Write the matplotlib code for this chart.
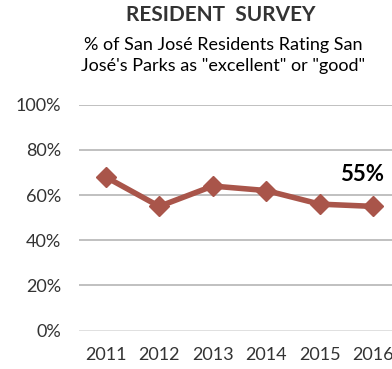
import matplotlib
matplotlib.use("Agg")
import matplotlib.pyplot as plt
from matplotlib.ticker import FuncFormatter

years = ["2011", "2012", "2013", "2014", "2015", "2016"]
rating = [68, 55, 64, 62, 56, 55]
yticks = [0, 20, 40, 60, 80, 100]

plt.rcParams["font.family"] = ["Lato", "DejaVu Sans"]

LINE_COLOR = "#A9554A"
TEXT_COLOR = "#333333"

fig = plt.figure(figsize=(3.92, 3.69), dpi=100)
ax = fig.add_axes([0.2015, 0.1038, 0.819, 0.6125])

x = list(range(len(years)))
ax.plot(x, rating, color=LINE_COLOR, linewidth=4, marker="D",
        markersize=10, solid_joinstyle="miter", zorder=3)

ax.set_xlim(-0.5, len(years) - 0.5)
ax.set_ylim(0, 100)
ax.set_yticks(yticks)
ax.yaxis.set_major_formatter(FuncFormatter(lambda v, _: f"{v:.0f}%"))
ax.set_xticks(x)
ax.set_xticklabels(years)

for v in yticks:
    ax.axhline(v, color="#DDDDDD" if v == 0 else "#BBBBBB", linewidth=1.3, zorder=1)

for side in ax.spines.values():
    side.set_visible(False)
ax.tick_params(length=0, labelsize=13, colors=TEXT_COLOR)
ax.tick_params(axis="y", pad=13)
ax.tick_params(axis="x", pad=12)

# last value callout
ax.text(len(years) - 1 + 0.2, rating[-1] + 14, f"{rating[-1]}%",
        ha="right", va="center", fontsize=16, fontweight="bold", color="black")

fig.text(0.563, 0.958, "RESIDENT  SURVEY", ha="center", va="center",
         fontsize=15, fontweight="bold", color=TEXT_COLOR)
fig.text(0.57, 0.85, "% of San José Residents Rating San\nJosé's Parks as \"excellent\" or \"good\"",
         ha="center", va="center", fontsize=13, color="black", linespacing=1.35)

fig.savefig("out.png", dpi=100)
